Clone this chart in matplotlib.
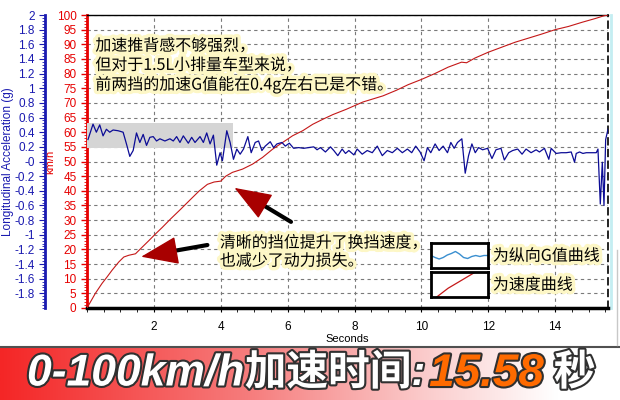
import matplotlib
matplotlib.use('Agg')
from matplotlib import pyplot as plt
from matplotlib import patheffects as pe
from matplotlib.colors import LinearSegmentedColormap
from matplotlib.lines import Line2D
from matplotlib.ticker import MultipleLocator, FormatStrFormatter
import numpy as np

plt.rcParams['font.family'] = ['Liberation Sans', 'Noto Sans CJK SC', 'DejaVu Sans']

# speed trace (km/h)
t_speed = [0, 0.25, 0.45, 0.6, 0.75, 0.95, 1.1, 1.25, 1.45, 1.6,
           1.85, 2.05, 2.25, 2.5, 2.8, 3.1, 3.35, 3.6, 3.8, 4.0,
           4.15, 4.35, 4.65, 4.95, 5.25, 5.55, 5.85, 6.15, 6.45, 6.75,
           7.05, 7.35, 7.75, 8.25, 8.85, 9.25, 9.6, 10.0, 10.4, 10.8,
           11.2, 11.35, 11.6, 12.0, 12.4, 12.8, 13.2, 13.6, 14.0, 14.4,
           14.8, 15.2, 15.45, 15.58]
speed = [0, 5, 8.4, 10.6, 12.9, 15.7, 17.4, 18, 18.5, 20.2,
         23, 25.3, 27.5, 30.4, 33.7, 37.1, 39.9, 42.2, 43, 43.3,
         45, 46.3, 47.4, 49.1, 51.4, 54.2, 56.5, 58.8, 60.5, 62.7,
         64.4, 66, 67.8, 70.3, 72.4, 74.3, 76.2, 78, 80, 82.2,
         83.9, 83.7, 85.3, 87.3, 89, 90.7, 92.1, 93.5, 95, 96.1,
         97.5, 98.8, 99.7, 100]

# longitudinal acceleration (g)
t_g = [0.03, 0.18, 0.28, 0.38, 0.48, 0.58, 0.68, 0.78, 0.93, 1.08,
       1.18, 1.28, 1.38, 1.48, 1.58, 1.68, 1.78, 1.88, 1.98, 2.08,
       2.18, 2.33, 2.48, 2.58, 2.68, 2.78, 2.88, 3.03, 3.13, 3.23,
       3.38, 3.48, 3.58, 3.68, 3.78, 3.88, 3.98, 4.05, 4.13, 4.18,
       4.28, 4.38, 4.48, 4.58, 4.68, 4.81, 4.91, 5.03, 5.13, 5.23,
       5.33, 5.48, 5.58, 5.68, 5.83, 5.93, 6.05, 6.18, 6.33, 6.48,
       6.63, 6.78, 6.88, 6.98, 7.13, 7.28, 7.38, 7.50, 7.63, 7.73,
       7.83, 7.98, 8.08, 8.23, 8.38, 8.53, 8.68, 8.83, 8.98, 9.13,
       9.28, 9.43, 9.58, 9.71, 9.83, 9.96, 10.08, 10.18, 10.28, 10.41,
       10.53, 10.65, 10.78, 10.88, 10.98, 11.08, 11.21, 11.31, 11.41, 11.51,
       11.61, 11.71, 11.83, 11.98, 12.11, 12.23, 12.38, 12.48, 12.61, 12.73,
       12.88, 13.01, 13.13, 13.28, 13.43, 13.53, 13.68, 13.81, 13.88, 14.03,
       14.18, 14.33, 14.48, 14.58, 14.63, 14.73, 14.83, 14.93, 15.23, 15.28,
       15.35, 15.41, 15.46, 15.51, 15.58]
g_val = [0.30, 0.51, 0.40, 0.50, 0.35, 0.44, 0.40, 0.43, 0.42, 0.40,
         0.24, 0.07, 0.15, 0.39, 0.26, 0.37, 0.22, 0.33, 0.34, 0.28,
         0.31, 0.28, 0.31, 0.28, 0.34, 0.26, 0.35, 0.25, 0.33, 0.26,
         0.34, 0.26, 0.39, 0.24, 0.36, -0.05, 0.12, 0.01, 0.26, 0.42,
         0.26, 0.03, 0.17, 0.10, 0.17, 0.34, 0.12, 0.26, 0.28, 0.15,
         0.21, 0.27, 0.19, 0.24, 0.26, 0.21, 0.25, 0.18, 0.19, 0.18,
         0.19, 0.20, 0.16, 0.19, 0.13, 0.20, 0.15, 0.08, 0.17, 0.11,
         0.15, 0.09, 0.17, 0.10, 0.15, 0.12, 0.21, 0.08, 0.15, 0.12,
         0.18, 0.12, 0.17, 0.12, 0.21, 0.13, 0.01, 0.19, 0.12, 0.24,
         0.15, 0.21, 0.12, 0.26, 0.18, 0.26, 0.31, -0.16, 0.08, 0.24,
         0.12, 0.19, 0.16, 0.18, 0.04, 0.16, 0.18, 0.02, 0.12, 0.15,
         0.17, 0.10, 0.17, 0.12, 0.16, 0.13, 0.18, 0.03, 0.18, 0.11,
         0.12, 0.12, 0.13, -0.01, 0.11, 0.13, 0.11, 0.12, 0.12, 0.17,
         -0.58, -0.01, -0.60, 0.30, 0.44]

# highlighted band (first two gears)
band_t = [0, 4.36]
band_lo, band_hi = 0.19, 0.52

# small legend swatches
swatch_wave = [0.50, 0.42, 0.36, 0.42, 0.52, 0.58, 0.66, 0.56, 0.42, 0.38, 0.46, 0.50, 0.46, 0.50, 0.50]
swatch_speed_x = [0.1, 0.3, 0.5, 0.78]
swatch_speed_y = [0.0, 0.35, 0.62, 1.0]

note_top = ['加速推背感不够强烈，', '但对于1.5L小排量车型来说，', '前两挡的加速G值能在0.4g左右已是不错。']
note_mid = ['清晰的挡位提升了换挡速度，', '也减少了动力损失。']
legend_labels = ['为纵向G值曲线', '为速度曲线']
banner_parts = [('0-100km/h', 'white', 32, 0), ('加速时间:', 'white', 30, 4),
                ('15.58', '#ff6a00', 33, 10), ('秒', 'white', 30, 0)]

RED = '#e60000'
BLUE = '#1a1ab0'
W, H = 620, 400

fig = plt.figure(figsize=(6.2, 4), dpi=100)
fig.patch.set_facecolor('white')

# main axes (speed)
ax = fig.add_axes([87 / W, 92 / H, 521 / W, 293 / H])
ax.plot(t_speed, speed, color='#c41818', lw=0.8, zorder=3)
ax.set_xlim(0, 15.58)
ax.set_ylim(0, 100)
ax.yaxis.set_major_locator(MultipleLocator(5))
ax.yaxis.set_minor_locator(MultipleLocator(1))
ax.set_xticks(np.arange(2, 15, 2))
ax.xaxis.set_minor_locator(MultipleLocator(0.5))
ax.grid(True, which='major', color='#7a7a7a', ls=(0, (3, 3)), lw=0.8)
ax.tick_params(axis='y', colors=RED, labelsize=8.5, length=4, width=1)
ax.tick_params(axis='y', which='minor', colors=RED, length=2)
ax.tick_params(axis='x', labelsize=8.5, length=3, pad=6)
ax.tick_params(axis='x', which='minor', length=3)
ax.spines['left'].set_color(RED)
ax.spines['left'].set_linewidth(2)
ax.spines['bottom'].set_linewidth(2.5)
ax.spines['top'].set_linewidth(1)
ax.spines['right'].set_linestyle((0, (4, 3)))
ax.spines['right'].set_linewidth(1.2)
ax.set_ylabel('km/h', color=RED, fontsize=8)
ax.yaxis.set_label_coords(-0.06, 0.5)
ax.set_xlabel('Seconds', fontsize=8, labelpad=1)
ax.plot([1.005, 1.005], [0, 1], transform=ax.transAxes, color='#c4eef2', lw=2, clip_on=False)

# twin axes (G)
ax2 = ax.twinx()
ax2.set_ylim(-2, 2)
ax2.fill_between(band_t, band_lo, band_hi, color='#d5d5d5', lw=0, zorder=0)
ax2.plot(t_g, g_val, color='#0c0c96', lw=0.9, zorder=2)
ax2.yaxis.tick_left()
ax2.yaxis.set_label_position('left')
ax2.spines['left'].set_position(('outward', 30))
ax2.spines['left'].set_color(BLUE)
ax2.spines['left'].set_linewidth(2)
for s in ['right', 'top', 'bottom']:
    ax2.spines[s].set_visible(False)
ax2.set_yticks(np.round(np.arange(-1.8, 2.01, 0.2), 1))
ax2.yaxis.set_minor_locator(MultipleLocator(0.04))
ax2.yaxis.set_major_formatter(FormatStrFormatter('%g'))
ax2.tick_params(axis='y', colors=BLUE, labelsize=8.5, length=4)
ax2.tick_params(axis='y', which='minor', colors=BLUE, length=2)
ax2.set_ylabel('Longitudinal Acceleration (g)', color=BLUE, fontsize=8.5)
ax2.yaxis.set_label_coords(-0.14, 0.5)

glow = [pe.withStroke(linewidth=5, foreground='#fdf7c6')]
cjk = ['Noto Sans CJK SC', 'DejaVu Sans']

for i, line in enumerate(note_top):
    ax.text(0.016, 0.894 - i * 0.066, line, transform=ax.transAxes, fontsize=11.5,
            family=cjk, va='center', ha='left', color='black', path_effects=glow, zorder=5)
for i, line in enumerate(note_mid):
    ax.text(0.255, 0.222 - i * 0.062, line, transform=ax.transAxes, fontsize=11.5,
            family=cjk, va='center', ha='left', color='black', path_effects=glow, zorder=5)
for i, lab in enumerate(legend_labels):
    ax.text(0.779, 0.177 - i * 0.099, lab, transform=ax.transAxes, fontsize=11.5,
            family=cjk, va='center', ha='left', color='black', path_effects=glow, zorder=5)

# legend swatch boxes
sw1 = fig.add_axes([431 / W, (H - 268) / H, 57 / W, 25 / H])
sw1.plot(np.linspace(0, 1, len(swatch_wave)), swatch_wave, color='#3a8fd0', lw=1)
sw2 = fig.add_axes([431 / W, (H - 297) / H, 57 / W, 25 / H])
sw2.plot(swatch_speed_x, swatch_speed_y, color='#c41818', lw=0.9)
for sw in (sw1, sw2):
    sw.set_xlim(0, 1)
    sw.set_ylim(0, 1)
    sw.set_xticks([])
    sw.set_yticks([])
    for s in sw.spines.values():
        s.set_linewidth(2)


def draw_arrow(axis, tail, tip):
    base = ((tail[0] + tip[0]) / 2, (tail[1] + tip[1]) / 2)
    axis.annotate('', xy=base, xytext=tail,
                  arrowprops=dict(arrowstyle='-', color='black', lw=3, shrinkA=0, shrinkB=0), zorder=6)
    axis.annotate('', xy=tip, xytext=base,
                  arrowprops=dict(arrowstyle='-|>,head_length=1.2,head_width=0.45', mutation_scale=20,
                                  color='#a80000', lw=1, shrinkA=0, shrinkB=0), zorder=6)


draw_arrow(ax, (3.6, 21.5), (1.62, 17.5))
draw_arrow(ax, (6.1, 29.4), (4.41, 41.0))

# bottom banner
fig.add_artist(Line2D([0, 1], [53 / H, 53 / H], color='#505050', lw=1.5))
fig.add_artist(Line2D([617 / W, 617 / W], [55 / H, 150 / H], color='#c8c8c8', lw=1))
bax = fig.add_axes([0, 0, 1, 52 / H])
cmap = LinearSegmentedColormap.from_list('banner', [(0, '#f42626'), (0.4, '#f67c7c'),
                                                     (0.7, '#fbcfcf'), (0.9, '#ffffff'), (1, '#ffffff')])
bax.imshow(np.linspace(0, 1, 256)[None, :], aspect='auto', cmap=cmap, extent=[0, 1, 0, 1])
bax.axis('off')

stroke = [pe.withStroke(linewidth=3, foreground='#303030')]
renderer = fig.canvas.get_renderer()
x = 27 / W
for part, col, size, gap in banner_parts:
    t = fig.text(x, 26 / H, part, color=col, fontsize=size, style='italic', weight='heavy',
                 va='center', ha='left', family=['Liberation Sans', 'Noto Sans CJK SC'],
                 path_effects=stroke)
    bb = t.get_window_extent(renderer=renderer)
    x = bb.x1 / W + gap / W

fig.savefig('out.png', dpi=100)
